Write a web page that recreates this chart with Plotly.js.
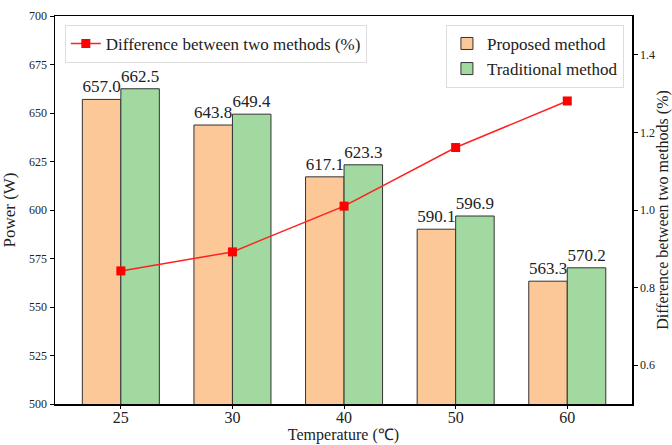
<!DOCTYPE html>
<html>
<head>
<meta charset="utf-8">
<script src="https://cdn.plot.ly/plotly-3.0.1.min.js"></script>
<style>html,body{margin:0;padding:0;background:#fff;}#chart{width:672px;height:445px;}</style>
</head>
<body>
<div id="chart"></div>
<script>
const temperatures = ['25', '30', '40', '50', '60'];
const proposedPower = [657.0, 643.8, 617.1, 590.1, 563.3];
const traditionalPower = [662.5, 649.4, 623.3, 596.9, 570.2];
const differencePct = [0.843, 0.892, 1.010, 1.161, 1.281];

const serif = 'Liberation Serif';

const traces = [
  {
    type: 'bar', x: temperatures, y: proposedPower, name: 'Proposed method',
    marker: {color: '#fdc897', line: {color: '#333333', width: 1}},
    text: proposedPower.map(v => v.toFixed(1)), textposition: 'outside',
    textfont: {family: serif, size: 17, color: '#222'}, cliponaxis: false,
    legend: 'legend2', yaxis: 'y'
  },
  {
    type: 'bar', x: temperatures, y: traditionalPower, name: 'Traditional method',
    marker: {color: '#a1d9a0', line: {color: '#333333', width: 1}},
    text: traditionalPower.map(v => v.toFixed(1)), textposition: 'outside',
    textfont: {family: serif, size: 17, color: '#222'}, cliponaxis: false,
    legend: 'legend2', yaxis: 'y'
  },
  {
    type: 'scatter', mode: 'lines+markers', x: temperatures, y: differencePct,
    name: 'Difference between two methods (%)',
    line: {color: '#ff2020', width: 1.5},
    marker: {color: '#ff0000', symbol: 'square', size: 9},
    yaxis: 'y2', legend: 'legend'
  }
];

const layout = {
  width: 672, height: 445,
  margin: {l: 55, r: 40, t: 16, b: 41},
  paper_bgcolor: '#fff', plot_bgcolor: '#fff',
  font: {family: serif, color: '#222'},
  barmode: 'group', bargap: 0.31, bargroupgap: 0,
  xaxis: {
    type: 'category', range: [-0.59, 4.58],
    showline: true, linecolor: '#000', linewidth: 1.5, mirror: true,
    ticks: 'outside', ticklen: 3, tickcolor: '#000', ticklabelstandoff: -5,
    tickfont: {family: serif, size: 16, color: '#222'},
    title: {text: 'Temperature (℃)', font: {family: serif, size: 16, color: '#222'}, standoff: 0},
    showgrid: false, zeroline: false
  },
  yaxis: {
    range: [500, 700], dtick: 25, tick0: 500,
    showline: true, linecolor: '#000', linewidth: 1.5, mirror: true,
    ticks: 'outside', ticklen: 4, tickcolor: '#000',
    tickfont: {family: serif, size: 12, color: '#222'},
    title: {text: 'Power (W)', font: {family: serif, size: 17, color: '#222'}, standoff: 10},
    showgrid: false, zeroline: false
  },
  yaxis2: {
    overlaying: 'y', side: 'right', range: [0.5, 1.5], dtick: 0.2, tick0: 0,
    tickformat: '.1f',
    showline: true, linecolor: '#000', linewidth: 1.5,
    ticks: 'outside', ticklen: 4, tickcolor: '#000',
    tickfont: {family: serif, size: 12, color: '#222'},
    title: {text: 'Difference between two methods (%)', font: {family: serif, size: 16, color: '#222'}, standoff: 6},
    showgrid: false, zeroline: false
  },
  legend: {
    x: 0.017, y: 0.977, xanchor: 'left', yanchor: 'top',
    bgcolor: 'rgba(255,255,255,0.85)', bordercolor: '#dddddd', borderwidth: 1,
    font: {family: serif, size: 17, color: '#222'}
  },
  legend2: {
    x: 0.986, y: 0.977, xanchor: 'right', yanchor: 'top',
    bgcolor: 'rgba(255,255,255,0.85)', bordercolor: '#dddddd', borderwidth: 1,
    font: {family: serif, size: 17, color: '#222'}, tracegroupgap: 0
  },
  showlegend: true
};

Plotly.newPlot('chart', traces, layout, {displayModeBar: false, staticPlot: true});
</script>
</body>
</html>
